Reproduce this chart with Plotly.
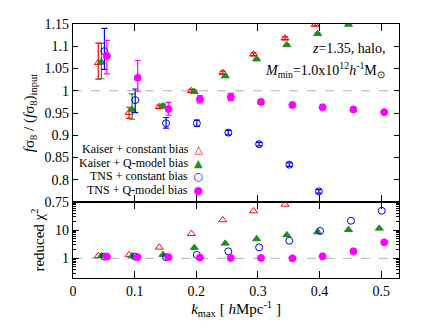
import plotly.graph_objects as go
from plotly.subplots import make_subplots

FONT = "Liberation Serif, Times New Roman, serif"
RED = "#ff0000"
GREEN = "#228b22"
BLUE = "#0000ff"
MAGENTA = "#ff00ff"

# ---- top panel: f sigma8 / (f sigma8)_input ----
k_kc = [0.041, 0.091, 0.140, 0.192, 0.243, 0.293, 0.344, 0.393]
r_kc = [1.063, 0.951, 0.964, 1.000, 1.041, 1.082, 1.118, 1.149]
ep_kc = [0.044, 0.012, 0.004, 0.003, 0.003, 0.003, 0.003, 0.003]
em_kc = [0.037, 0.013, 0.004, 0.003, 0.003, 0.003, 0.003, 0.003]

k_kq = [0.046, 0.096, 0.146, 0.197, 0.247, 0.298, 0.347, 0.397, 0.447]
r_kq = [1.064, 0.958, 0.966, 0.998, 1.033, 1.071, 1.103, 1.128, 1.149]
ep_kq = [0.043, 0.035, 0.004, 0.003, 0.003, 0.002, 0.002, 0.002, 0.002]
em_kq = [0.037, 0.022, 0.004, 0.003, 0.003, 0.002, 0.002, 0.002, 0.002]

k_tc = [0.051, 0.101, 0.151, 0.201, 0.252, 0.302, 0.351, 0.399]
r_tc = [1.089, 0.979, 0.927, 0.927, 0.906, 0.880, 0.834, 0.774]
ep_tc = [0.051, 0.025, 0.013, 0.007, 0.005, 0.004, 0.004, 0.004]
em_tc = [0.041, 0.028, 0.011, 0.007, 0.005, 0.004, 0.004, 0.004]

k_tq = [0.055, 0.105, 0.155, 0.206, 0.256, 0.305, 0.356, 0.405, 0.455, 0.505]
r_tq = [1.078, 1.029, 0.959, 0.981, 0.986, 0.975, 0.968, 0.963, 0.958, 0.952]
ep_tq = [0.035, 0.039, 0.015, 0.008, 0.008, 0.004, 0.004, 0.003, 0.003, 0.003]
em_tq = [0.040, 0.030, 0.014, 0.008, 0.008, 0.004, 0.004, 0.003, 0.003, 0.003]

# ---- bottom panel: reduced chi^2 ----
c_kc = [1.22, 1.32, 2.45, 7.5, 23.0, 48.0, 82.0]
c_kq = [1.22, 1.22, 1.35, 2.4, 3.4, 4.9, 6.8, 8.6, 10.4, 11.6]
c_tc = [1.15, 1.15, 1.09, 1.32, 1.77, 2.45, 4.2, 9.4, 21.7, 49.0]
c_tq = [1.15, 1.09, 1.09, 1.06, 1.03, 1.03, 1.00, 1.18, 1.77, 3.7]
kc_chi = [0.041, 0.091, 0.140, 0.192, 0.243, 0.293, 0.344]
kq_chi = [0.046, 0.096, 0.146, 0.197, 0.247, 0.298, 0.347, 0.397, 0.447, 0.497]
tc_chi = [0.051, 0.101, 0.151, 0.201, 0.252, 0.302, 0.351, 0.401, 0.451, 0.501]
tq_chi = [0.055, 0.105, 0.155, 0.206, 0.256, 0.305, 0.356, 0.405, 0.455, 0.505]

X_RANGE = [0, 0.529]
top_ticks = [0.75, 0.8, 0.85, 0.9, 0.95, 1.0, 1.05, 1.1, 1.15]
top_labels = ["0.75", "0.8", "0.85", "0.9", "0.95", "1", "1.05", "1.1", "1.15"]
x_ticks = [0, 0.1, 0.2, 0.3, 0.4, 0.5]
x_labels = ["0", "0.1", "0.2", "0.3", "0.4", "0.5"]
chi_minor = [0.2, 0.3, 0.4, 0.5, 0.6, 0.7, 0.8, 0.9,
             2, 3, 4, 5, 6, 7, 8, 9, 20, 30, 40, 50, 60, 70, 80, 90]

fig = make_subplots(rows=2, cols=1, shared_xaxes=True,
                    vertical_spacing=0, row_heights=[0.701, 0.299])

series = [
    (k_kc, r_kc, ep_kc, em_kc, kc_chi, c_kc, RED, "triangle-up-open", 7),
    (k_kq, r_kq, ep_kq, em_kq, kq_chi, c_kq, GREEN, "triangle-up", 7),
    (k_tc, r_tc, ep_tc, em_tc, tc_chi, c_tc, BLUE, "circle-open", 7),
    (k_tq, r_tq, ep_tq, em_tq, tq_chi, c_tq, MAGENTA, "circle", 7),
]

# dashed reference lines at 1
for row in (1, 2):
    fig.add_trace(go.Scatter(
        x=X_RANGE, y=[1, 1], mode="lines",
        line=dict(color="#b0b0b0", width=1, dash="dash"),
        showlegend=False, hoverinfo="skip",
    ), row=row, col=1)

for kx, r, ep, em, kchi, chi, col, sym, sz in series:
    fig.add_trace(go.Scatter(
        x=kx, y=r, mode="markers",
        marker=dict(symbol=sym, size=sz, color=col, line=dict(color=col, width=1)),
        error_y=dict(type="data", array=ep, arrayminus=em,
                     color=col, thickness=1.2, width=3),
        showlegend=False,
    ), row=1, col=1)
    fig.add_trace(go.Scatter(
        x=kchi, y=chi, mode="markers",
        marker=dict(symbol=sym, size=sz, color=col, line=dict(color=col, width=1)),
        showlegend=False,
    ), row=2, col=1)

axis_common = dict(
    showline=True, linecolor="black", linewidth=1.3, mirror="ticks",
    ticks="inside", tickcolor="black", tickwidth=1, showgrid=False,
    zeroline=False, automargin=False,
    tickfont=dict(family=FONT, size=14, color="black"),
)

fig.update_xaxes(range=X_RANGE, tickvals=x_ticks, ticktext=x_labels,
                 ticklen=7, **axis_common)
fig.update_xaxes(showticklabels=False, row=1, col=1)
fig.update_xaxes(
    title=dict(text="<i>k</i><sub>max</sub> [ <i>h</i>Mpc<sup>-1</sup> ]",
               font=dict(family=FONT, size=15, color="black"), standoff=4),
    row=2, col=1)

fig.update_yaxes(range=[0.75, 1.15], tickvals=top_ticks, ticktext=top_labels,
                 ticklen=5,
                 title=dict(text="<i>f</i>σ<sub>8</sub> / (<i>f</i>σ<sub>8</sub>)<sub>input</sub>",
                            font=dict(family=FONT, size=15, color="black"), standoff=6),
                 row=1, col=1, **axis_common)
fig.update_yaxes(type="log", range=[-0.699, 2.0], tickvals=[1, 10],
                 ticktext=["1", "10"], ticklen=6,
                 minor=dict(ticks="inside", ticklen=3, tickcolor="black",
                            tickwidth=1, tickvals=chi_minor),
                 title=dict(text="reduced χ<sup>2</sup>",
                            font=dict(family=FONT, size=15, color="black"), standoff=6),
                 row=2, col=1, **axis_common)

# model annotation
fig.add_annotation(
    text="<i>z</i>=1.35, halo,", xref="paper", yref="paper",
    x=0.962, y=0.905, xanchor="right", yanchor="middle", showarrow=False,
    font=dict(family=FONT, size=14, color="black"),
)
fig.add_annotation(
    text="<i>M</i><sub>min</sub>=1.0x10<sup>12</sup><i>h</i><sup>-1</sup>M<sub>⊙</sub>",
    xref="paper", yref="paper",
    x=0.962, y=0.82, xanchor="right", yanchor="middle", showarrow=False,
    font=dict(family=FONT, size=14, color="black"),
)

# key in gnuplot style: label on the left, symbol on the right
key_rows = [
    ("Kaiser + constant bias", "△", RED, 0.508),
    ("Kaiser + Q-model bias", "▲", GREEN, 0.453),
    ("TNS + constant bias", "○", BLUE, 0.400),
    ("TNS + Q-model bias", "●", MAGENTA, 0.346),
]
for label, glyph, col, yk in key_rows:
    fig.add_annotation(
        text=f"{label}  <span style='color:{col};font-family:DejaVu Sans;font-size:11px'>{glyph}</span>",
        xref="paper", yref="paper", x=0.405, y=yk,
        xanchor="right", yanchor="middle", showarrow=False,
        font=dict(family=FONT, size=12, color="black"),
    )

# the page body keeps an 8px margin; sizing the figure to fit inside the
# window avoids scrollbars and puts the plot area where the reference has it
fig.update_layout(
    width=420, height=313,
    margin=dict(l=65, r=29, t=16, b=43),
    paper_bgcolor="white", plot_bgcolor="white",
    font=dict(family=FONT, color="black"),
    showlegend=False,
)

fig.write_html("out.html")
